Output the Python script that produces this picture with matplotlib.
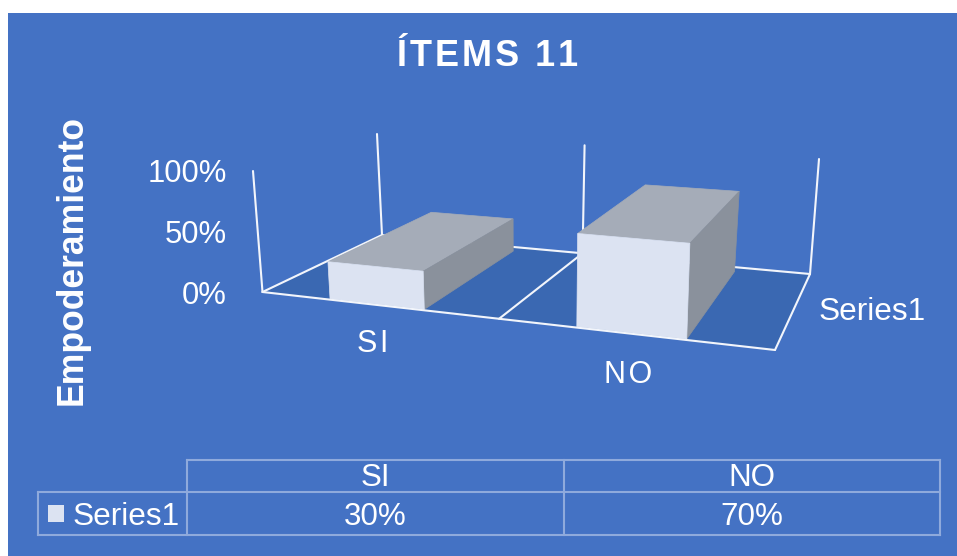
import numpy as np
import matplotlib
matplotlib.use('Agg')
import matplotlib.pyplot as plt
from matplotlib.patches import Polygon, Rectangle

# datos
categorias = ['SI', 'NO']
valores = [30, 70]
ticks_y = [0, 50, 100]
serie = 'Series1'
titulo = 'ÍTEMS 11'
eje_y = 'Empoderamiento'

AZUL = '#4472C4'
PISO = '#3A68B2'
FRENTE = '#DCE3F2'
ARRIBA = '#A5ACB8'
LADO = '#8A919C'
FUENTE = 'Liberation Sans'
HAIR = '\u200a'

# esquinas del piso en pixeles: frente izq, frente der, fondo der, fondo izq
ESQ = np.array([[262.5, 292], [775, 350], [810, 274], [382, 235]], float)
ALTO = [121, 140, 115, 101]
INCL = [-9.5, 7, 9, -5]


def homografia(dst):
    src = [(0, 0), (1, 0), (1, 1), (0, 1)]
    A, b = [], []
    for (x, y), (X, Y) in zip(src, dst):
        A.append([x, y, 1, 0, 0, 0, -x * X, -y * X])
        A.append([0, 0, 0, x, y, 1, -x * Y, -y * Y])
        b += [X, Y]
    return np.append(np.linalg.solve(np.array(A), np.array(b)), 1).reshape(3, 3)


H = homografia(ESQ)


def bilineal(c, u, d):
    return (c[0] * (1 - u) * (1 - d) + c[1] * u * (1 - d) + c[2] * u * d + c[3] * (1 - u) * d)


def proy(cat, d, v):
    '''categoria (0 a 2), profundidad (0 a 1), valor en % -> pixel'''
    u = cat / 2
    p = H @ np.array([u, d, 1])
    x, y = p[0] / p[2], p[1] / p[2]
    return (x + v / 100 * bilineal(INCL, u, d), y - v / 100 * bilineal(ALTO, u, d))


def poli(ax, pts, color, z=3):
    ax.add_patch(Polygon(pts, closed=True, fc=color, ec=color, lw=0.5, zorder=z))


def linea(ax, a, b, lw=1.5, z=2):
    ax.plot([a[0], b[0]], [a[1], b[1]], color='#F2F5FB', lw=lw, zorder=z, solid_capstyle='round')


fig = plt.figure(figsize=(9.57, 5.56), dpi=100, facecolor='white')
ax = fig.add_axes([0, 0, 1, 1])
ax.set_xlim(0, 957)
ax.set_ylim(556, 0)
ax.axis('off')
ax.add_patch(Rectangle((8, 13), 949, 543, fc=AZUL, ec='none', zorder=0))

# piso y paredes
poli(ax, [proy(0, 0, 0), proy(2, 0, 0), proy(2, 1, 0), proy(0, 1, 0)], PISO, z=1)
linea(ax, proy(0, 0, 0), proy(2, 0, 0), z=4)
linea(ax, proy(2, 0, 0), proy(2, 1, 0))
linea(ax, proy(2, 1, 0), proy(0, 1, 0))
linea(ax, proy(0, 1, 0), proy(0, 0, 0))
linea(ax, proy(1, 0, 0), proy(1, 1, 0))
for c, d in [(0, 0), (0, 1), (1, 1), (2, 1)]:
    linea(ax, proy(c, d, 0), proy(c, d, 100))

# barras
ANCHO_INI, ANCHO_FIN = 0.295, 0.695
D0, D1 = 0.01, 0.93
for i, v in enumerate(valores):
    a, b = i + ANCHO_INI, i + ANCHO_FIN
    poli(ax, [proy(a, D0, v), proy(b, D0, v), proy(b, D1, v), proy(a, D1, v)], ARRIBA)
    poli(ax, [proy(b, D0, 0), proy(b, D1, 0), proy(b, D1, v), proy(b, D0, v)], LADO)
    poli(ax, [proy(a, D0, 0), proy(b, D0, 0), proy(b, D0, v), proy(a, D0, v)], FRENTE)

# textos del grafico
ax.text(488, 57, HAIR.join(titulo), family=FUENTE, weight='bold', size=26, color='white', ha='center', va='center')
ax.text(72, 260, eje_y, family=FUENTE, weight='bold', size=25.6, color='white', rotation=90, ha='center', va='center')
for t in ticks_y:
    yy = proy(0, 0, t)[1]
    ax.text(227, yy + 3.5, f'{t}%', family=FUENTE, size=22.3, color='white', ha='right', va='center')
ax.text(373, 344, HAIR.join(categorias[0]), family=FUENTE, size=22, color='white', ha='center', va='center')
ax.text(628, 375, HAIR.join(categorias[1]), family=FUENTE, size=22, color='white', ha='center', va='center')
ax.text(872, 312, serie, family=FUENTE, size=22.8, color='white', ha='center', va='center')

# tabla de datos
BORDE = '#8FAADC'
xt = [38, 187, 564, 940]
yt = [460, 492, 535]
for x0, x1, y0, y1 in [(xt[1], xt[3], yt[0], yt[0]), (xt[0], xt[3], yt[1], yt[1]), (xt[0], xt[3], yt[2], yt[2]),
                       (xt[0], xt[0], yt[1], yt[2]), (xt[1], xt[1], yt[0], yt[2]), (xt[2], xt[2], yt[0], yt[2]),
                       (xt[3], xt[3], yt[0], yt[2])]:
    ax.plot([x0, x1], [y0, y1], color=BORDE, lw=1.5, zorder=2)
for i, c in enumerate(categorias):
    cx = (xt[i + 1] + xt[i + 2]) / 2
    ax.text(cx, 478, c, family=FUENTE, size=22.6, color='white', ha='center', va='center')
    ax.text(cx, 517, f'{valores[i]}%', family=FUENTE, size=22.6, color='white', ha='center', va='center')
ax.add_patch(Rectangle((48, 505), 16, 17, fc=FRENTE, ec='none', zorder=3))
ax.text(73, 517, serie, family=FUENTE, size=22.8, color='white', ha='left', va='center')

fig.savefig('out.png', dpi=100, facecolor=fig.get_facecolor())
